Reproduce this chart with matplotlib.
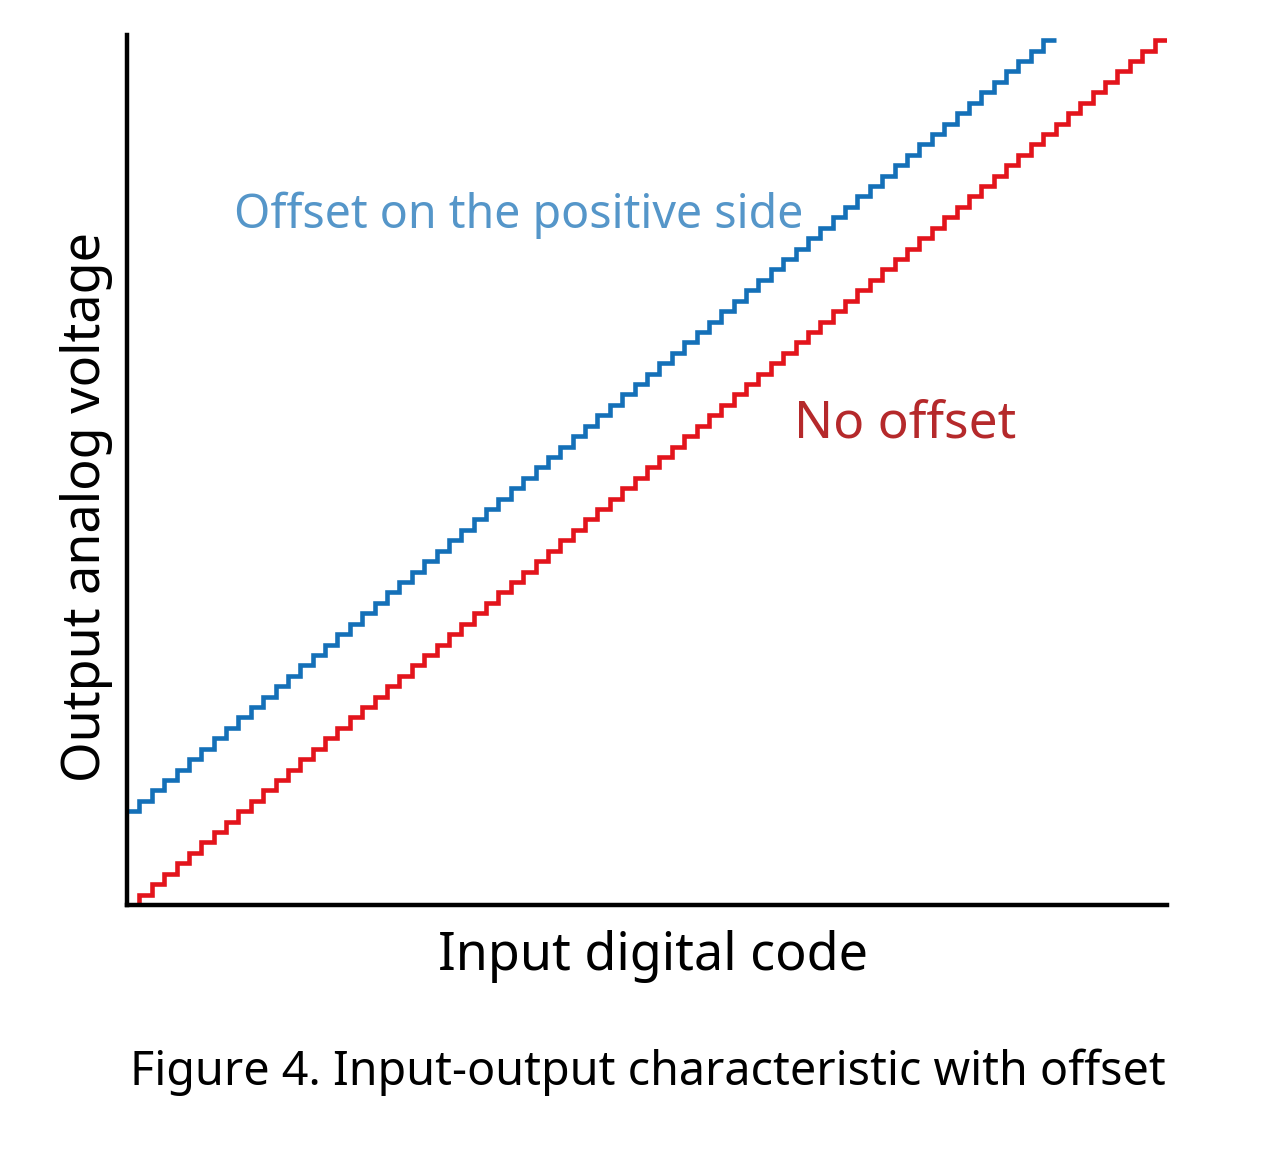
import matplotlib
matplotlib.use("Agg")
import matplotlib.pyplot as plt

plt.rcParams['font.family'] = ['Noto Sans', 'DejaVu Sans']

# Staircase data: output level for each input code
red_codes = [0, 1, 2, 3, 4, 5, 6, 7, 8, 9, 10, 11, 12, 13, 14, 15, 16, 17, 18, 19,
             20, 21, 22, 23, 24, 25, 26, 27, 28, 29, 30, 31, 32, 33, 34, 35, 36, 37, 38, 39,
             40, 41, 42, 43, 44, 45, 46, 47, 48, 49, 50, 51, 52, 53, 54, 55, 56, 57, 58, 59,
             60, 61, 62, 63, 64, 65, 66, 67, 68, 69, 70, 71, 72, 73, 74, 75, 76, 77, 78, 79,
             80, 81, 82, 83, 84]
red_levels = [0, 1, 2, 3, 4, 5, 6, 7, 8, 9, 10, 11, 12, 13, 14, 15, 16, 17, 18, 19,
              20, 21, 22, 23, 24, 25, 26, 27, 28, 29, 30, 31, 32, 33, 34, 35, 36, 37, 38, 39,
              40, 41, 42, 43, 44, 45, 46, 47, 48, 49, 50, 51, 52, 53, 54, 55, 56, 57, 58, 59,
              60, 61, 62, 63, 64, 65, 66, 67, 68, 69, 70, 71, 72, 73, 74, 75, 76, 77, 78, 79,
              80, 81, 82, 83]
blue_codes = [0, 1, 2, 3, 4, 5, 6, 7, 8, 9, 10, 11, 12, 13, 14, 15, 16, 17, 18, 19,
              20, 21, 22, 23, 24, 25, 26, 27, 28, 29, 30, 31, 32, 33, 34, 35, 36, 37, 38, 39,
              40, 41, 42, 43, 44, 45, 46, 47, 48, 49, 50, 51, 52, 53, 54, 55, 56, 57, 58, 59,
              60, 61, 62, 63, 64, 65, 66, 67, 68, 69, 70, 71, 72, 73, 74, 75]
blue_levels = [9, 10, 11, 12, 13, 14, 15, 16, 17, 18, 19, 20, 21, 22, 23, 24, 25, 26, 27, 28,
               29, 30, 31, 32, 33, 34, 35, 36, 37, 38, 39, 40, 41, 42, 43, 44, 45, 46, 47, 48,
               49, 50, 51, 52, 53, 54, 55, 56, 57, 58, 59, 60, 61, 62, 63, 64, 65, 66, 67, 68,
               69, 70, 71, 72, 73, 74, 75, 76, 77, 78, 79, 80, 81, 82, 83]

W, H = 1265, 1150
fig = plt.figure(figsize=(W / 100, H / 100), dpi=100)
ax = fig.add_axes([127 / W, (H - 905) / H, 1040 / W, 870 / H])

ax.stairs(blue_levels, blue_codes, baseline=None, color='#1470b8', linewidth=3.3)
ax.stairs(red_levels, red_codes, baseline=None, color='#e3141c', linewidth=3.3)

ax.set_xlim(0, 84)
ax.set_ylim(0, 83.5)
for s in ['top', 'right']:
    ax.spines[s].set_visible(False)
for s in ['left', 'bottom']:
    ax.spines[s].set_linewidth(3.2)
    ax.spines[s].set_color('black')
ax.set_xticks([])
ax.set_yticks([])

def fx(px):
    return px / W

def fy(py):
    return (H - py) / H

fig.text(fx(653), fy(970), 'Input digital code', ha='center', va='baseline',
         fontsize=37.5, color='black')
fig.text(fx(100), fy(507), 'Output analog voltage', ha='center', va='baseline',
         rotation=90, fontsize=37.5, color='black', rotation_mode='anchor')
fig.text(fx(519), fy(228), 'Offset on the positive side', ha='center', va='baseline',
         fontsize=33.5, color='#5596c9')
fig.text(fx(905), fy(437), 'No offset', ha='center', va='baseline',
         fontsize=37, color='#b5292b')
fig.text(fx(648), fy(1085), 'Figure 4. Input-output characteristic with offset',
         ha='center', va='baseline', fontsize=33.6, color='black')

fig.savefig('out.png', dpi=100, facecolor='white')
